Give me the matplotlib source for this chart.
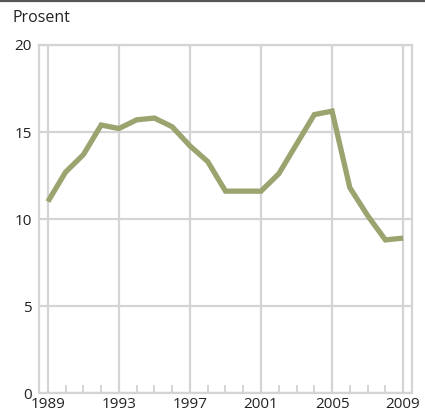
import matplotlib.pyplot as plt
import matplotlib.lines as mlines

# Data
years = list(range(1989, 2010))
values = [11.0, 12.7, 13.7, 15.4, 15.2, 15.7, 15.8, 15.3, 14.2, 13.3, 11.6,
          11.6, 11.6, 12.6, 14.3, 16.0, 16.2, 11.8, 10.2, 8.8, 8.9]
x_ticks = [1989, 1993, 1997, 2001, 2005, 2009]
y_ticks = [0, 5, 10, 15, 20]

plt.rcParams['font.family'] = ['Open Sans', 'DejaVu Sans']

grid_col = "#d4d4d4"
fig = plt.figure(figsize=(4.25, 4.19), dpi=100)
ax = fig.add_axes([39 / 425, 26 / 419, 373 / 425, 348 / 419])

ax.plot(years, values, color="#9ba36f", lw=3.8, solid_joinstyle="miter",
        solid_capstyle="butt", zorder=3)

ax.set_xlim(1988.5, 2009.5)
ax.set_ylim(0, 20)
ax.set_xticks(x_ticks)
ax.set_yticks(y_ticks)
ax.set_xticks([y for y in years if y not in x_ticks], minor=True)
ax.grid(True, which="major", color=grid_col, lw=1.6)
ax.tick_params(axis="both", which="major", length=0, labelsize=11,
               colors="#222222")
ax.tick_params(axis="x", pad=3)
ax.tick_params(axis="y", pad=5)
ax.tick_params(axis="x", which="minor", direction="in", length=6,
               width=1.4, color=grid_col)
for s in ax.spines.values():
    s.set_color(grid_col)
    s.set_linewidth(1.6)

fig.text(12 / 425, 1 - 18 / 419, "Prosent", fontsize=11.5, color="#222222",
         va="center", ha="left")
fig.add_artist(mlines.Line2D([0, 1], [1 - 1 / 419, 1 - 1 / 419],
                             color="#555555", lw=1.6,
                             transform=fig.transFigure))

plt.savefig("out.png", dpi=100)
